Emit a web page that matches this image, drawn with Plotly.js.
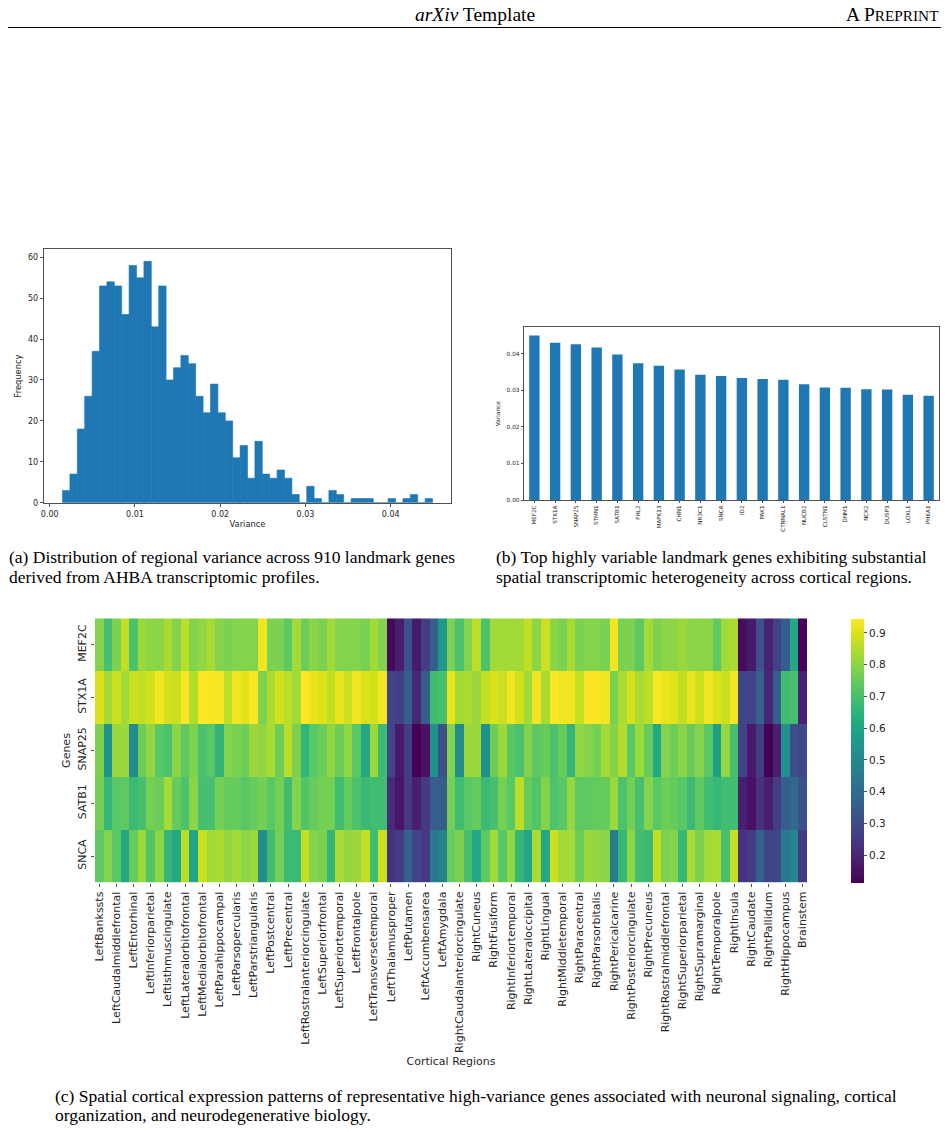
<!DOCTYPE html>
<html>
<head>
<meta charset="utf-8">
<script src="https://cdn.plot.ly/plotly-3.0.1.min.js"></script>
<style>
  html, body { margin: 0; padding: 0; background: #fff; }
  #fig { width: 949px; height: 1131px; }
</style>
</head>
<body>
<div id="fig"></div>
<script>
// ---- (a) histogram of regional variance over 910 landmark genes (50 bins) ----
const histBinLo = 0.0015;
const histBinHi = 0.0449;
const histCounts = [3, 7, 18, 26, 37, 53, 54, 53, 46, 58,
                    55, 59, 43, 53, 30, 33, 36, 34, 26, 22,
                    29, 22, 20, 11, 14, 6, 15, 7, 6, 8,
                    6, 2, 0, 4, 1, 0, 3, 2, 0, 1,
                    1, 1, 0, 0, 1, 0, 1, 2, 0, 1];

// ---- (b) top 20 highly variable genes ----
const topGenes = ['MEF2C', 'STX1A', 'SNAP25', 'STMN1', 'SATB1', 'FHL2', 'MAPK13', 'CHN1', 'NR3C1', 'SNCA',
                  'ID2', 'PAK1', 'CTNNAL1', 'NUCB2', 'CLSTN1', 'DNM1', 'NCK2', 'DUSP3', 'LOXL1', 'PHKA1'];
const topVariance = [0.0450, 0.0430, 0.0426, 0.0417, 0.0398, 0.0374, 0.0367, 0.0357, 0.0343, 0.0339,
                     0.0334, 0.0331, 0.0329, 0.0317, 0.0308, 0.0307, 0.0303, 0.0302, 0.0288, 0.0285];

// ---- (c) regional expression of representative genes ----
const heatGenes = ['MEF2C', 'STX1A', 'SNAP25', 'SATB1', 'SNCA'];
const regions = [
  'LeftBankssts', 'LeftCaudalanteriorcingulate', 'LeftCaudalmiddlefrontal', 'LeftCuneus', 'LeftEntorhinal',
  'LeftFusiform', 'LeftInferiorparietal', 'LeftInferiortemporal', 'LeftIsthmuscingulate', 'LeftLateraloccipital',
  'LeftLateralorbitofrontal', 'LeftLingual', 'LeftMedialorbitofrontal', 'LeftMiddletemporal', 'LeftParahippocampal',
  'LeftParacentral', 'LeftParsopercularis', 'LeftParsorbitalis', 'LeftParstriangularis', 'LeftPericalcarine',
  'LeftPostcentral', 'LeftPosteriorcingulate', 'LeftPrecentral', 'LeftPrecuneus', 'LeftRostralanteriorcingulate',
  'LeftRostralmiddlefrontal', 'LeftSuperiorfrontal', 'LeftSuperiorparietal', 'LeftSuperiortemporal', 'LeftSupramarginal',
  'LeftFrontalpole', 'LeftTemporalpole', 'LeftTransversetemporal', 'LeftInsula', 'LeftThalamusproper',
  'LeftCaudate', 'LeftPutamen', 'LeftPallidum', 'LeftAccumbensarea', 'LeftHippocampus',
  'LeftAmygdala', 'RightBankssts', 'RightCaudalanteriorcingulate', 'RightCaudalmiddlefrontal', 'RightCuneus',
  'RightEntorhinal', 'RightFusiform', 'RightInferiorparietal', 'RightInferiortemporal', 'RightIsthmuscingulate',
  'RightLateraloccipital', 'RightLateralorbitofrontal', 'RightLingual', 'RightMedialorbitofrontal', 'RightMiddletemporal',
  'RightParahippocampal', 'RightParacentral', 'RightParsopercularis', 'RightParsorbitalis', 'RightParstriangularis',
  'RightPericalcarine', 'RightPostcentral', 'RightPosteriorcingulate', 'RightPrecentral', 'RightPrecuneus',
  'RightRostralanteriorcingulate', 'RightRostralmiddlefrontal', 'RightSuperiorfrontal', 'RightSuperiorparietal', 'RightSuperiortemporal',
  'RightSupramarginal', 'RightFrontalpole', 'RightTemporalpole', 'RightTransversetemporal', 'RightInsula',
  'RightThalamusproper', 'RightCaudate', 'RightPutamen', 'RightPallidum', 'RightAccumbensarea',
  'RightHippocampus', 'RightAmygdala', 'Brainstem'
];

const exprMEF2C = [
  0.79, 0.70, 0.78, 0.87, 0.71, 0.82, 0.80, 0.80, 0.84, 0.79,
  0.86, 0.79, 0.81, 0.84, 0.79, 0.78, 0.79, 0.79, 0.79, 0.93,
  0.78, 0.78, 0.74, 0.83, 0.76, 0.80, 0.78, 0.83, 0.79, 0.79,
  0.79, 0.78, 0.83, 0.79, 0.13, 0.18, 0.32, 0.17, 0.26, 0.36,
  0.55, 0.78, 0.71, 0.79, 0.86, 0.71, 0.83, 0.83, 0.83, 0.83,
  0.87, 0.80, 0.88, 0.80, 0.78, 0.84, 0.78, 0.79, 0.79, 0.78,
  0.93, 0.78, 0.78, 0.74, 0.83, 0.78, 0.80, 0.80, 0.82, 0.80,
  0.80, 0.80, 0.74, 0.83, 0.84, 0.14, 0.17, 0.32, 0.19, 0.27,
  0.36, 0.61, 0.12
];
const exprSTX1A = [
  0.90, 0.83, 0.88, 0.83, 0.88, 0.87, 0.89, 0.93, 0.89, 0.88,
  0.94, 0.85, 0.945, 0.94, 0.94, 0.86, 0.93, 0.91, 0.94, 0.78,
  0.84, 0.89, 0.86, 0.83, 0.945, 0.92, 0.90, 0.87, 0.92, 0.88,
  0.93, 0.90, 0.89, 0.93, 0.28, 0.27, 0.36, 0.20, 0.36, 0.69,
  0.70, 0.92, 0.83, 0.84, 0.82, 0.87, 0.90, 0.88, 0.93, 0.89,
  0.83, 0.93, 0.84, 0.945, 0.93, 0.93, 0.87, 0.94, 0.94, 0.93,
  0.78, 0.84, 0.89, 0.84, 0.86, 0.945, 0.92, 0.91, 0.87, 0.92,
  0.88, 0.93, 0.90, 0.88, 0.93, 0.28, 0.28, 0.37, 0.20, 0.36,
  0.69, 0.70, 0.19
];
const exprSNAP25 = [
  0.78, 0.53, 0.82, 0.82, 0.51, 0.76, 0.81, 0.73, 0.71, 0.80,
  0.74, 0.78, 0.71, 0.73, 0.66, 0.79, 0.78, 0.76, 0.82, 0.81,
  0.84, 0.76, 0.86, 0.78, 0.66, 0.73, 0.76, 0.81, 0.76, 0.81,
  0.73, 0.61, 0.82, 0.68, 0.28, 0.17, 0.26, 0.113, 0.15, 0.53,
  0.32, 0.79, 0.51, 0.82, 0.82, 0.53, 0.76, 0.82, 0.73, 0.71,
  0.79, 0.74, 0.75, 0.71, 0.75, 0.66, 0.81, 0.79, 0.77, 0.83,
  0.79, 0.85, 0.73, 0.82, 0.75, 0.61, 0.79, 0.76, 0.80, 0.75,
  0.79, 0.73, 0.58, 0.81, 0.70, 0.28, 0.17, 0.26, 0.113, 0.18,
  0.53, 0.32, 0.29
];
const exprSATB1 = [
  0.77, 0.67, 0.73, 0.74, 0.68, 0.70, 0.77, 0.76, 0.83, 0.75,
  0.71, 0.80, 0.70, 0.70, 0.77, 0.75, 0.75, 0.73, 0.75, 0.77,
  0.73, 0.77, 0.69, 0.79, 0.72, 0.75, 0.77, 0.77, 0.69, 0.75,
  0.71, 0.68, 0.69, 0.69, 0.21, 0.16, 0.25, 0.18, 0.25, 0.36,
  0.36, 0.77, 0.69, 0.73, 0.75, 0.68, 0.70, 0.77, 0.73, 0.86,
  0.75, 0.72, 0.79, 0.71, 0.73, 0.81, 0.74, 0.74, 0.75, 0.75,
  0.82, 0.71, 0.77, 0.70, 0.79, 0.73, 0.76, 0.75, 0.73, 0.68,
  0.74, 0.69, 0.67, 0.69, 0.69, 0.18, 0.15, 0.23, 0.18, 0.26,
  0.36, 0.39, 0.32
];
const exprSNCA = [
  0.74, 0.79, 0.73, 0.61, 0.75, 0.82, 0.72, 0.80, 0.66, 0.61,
  0.86, 0.60, 0.88, 0.83, 0.84, 0.81, 0.83, 0.80, 0.82, 0.52,
  0.69, 0.77, 0.68, 0.68, 0.87, 0.79, 0.78, 0.66, 0.84, 0.81,
  0.82, 0.87, 0.69, 0.88, 0.23, 0.26, 0.37, 0.28, 0.25, 0.45,
  0.49, 0.75, 0.78, 0.70, 0.61, 0.74, 0.83, 0.73, 0.81, 0.67,
  0.61, 0.84, 0.61, 0.88, 0.83, 0.83, 0.76, 0.82, 0.81, 0.80,
  0.47, 0.67, 0.81, 0.69, 0.68, 0.87, 0.78, 0.79, 0.67, 0.84,
  0.78, 0.83, 0.84, 0.70, 0.87, 0.23, 0.26, 0.37, 0.28, 0.29,
  0.45, 0.49, 0.25
];

// ---------------------------------------------------------------------------
const W = 949, H = 1131;
const px = x => x / W;            // paper fraction from left
const py = y => 1 - y / H;        // paper fraction from top

const BLUE = '#1f77b4';
const SANS = 'DejaVu Sans, sans-serif';
const SERIF = 'Liberation Serif, Times New Roman, serif';
const INK = '#262626';
const CAPTION = 17.5;

// histogram bins
const nBins = histCounts.length;
const binW = (histBinHi - histBinLo) / nBins;
const binMid = histCounts.map((_, i) => histBinLo + (i + 0.5) * binW);

const traces = [
  {
    type: 'bar', x: binMid, y: histCounts, width: binW,
    marker: { color: BLUE, line: { color: BLUE, width: 0.6 } },
    xaxis: 'x', yaxis: 'y', hoverinfo: 'x+y'
  },
  {
    type: 'bar', x: topGenes, y: topVariance, width: 0.5,
    marker: { color: BLUE, line: { width: 0 } },
    xaxis: 'x2', yaxis: 'y2'
  },
  {
    type: 'heatmap',
    x: regions, y: heatGenes,
    z: [exprMEF2C, exprSTX1A, exprSNAP25, exprSATB1, exprSNCA],
    colorscale: 'Viridis', zmin: 0.113, zmax: 0.945,
    xaxis: 'x3', yaxis: 'y3', xgap: 0, ygap: 0,
    colorbar: {
      x: px(851), xanchor: 'left', xpad: 0, ypad: 0,
      y: py(882.7), yanchor: 'bottom',
      len: 264.4 / H, lenmode: 'fraction',
      thickness: 13, thicknessmode: 'pixels',
      outlinewidth: 0,
      tickvals: [0.2, 0.3, 0.4, 0.5, 0.6, 0.7, 0.8, 0.9],
      ticks: 'outside', ticklen: 3.5, tickwidth: 0.8, tickcolor: INK,
      tickfont: { family: SANS, size: 10.5, color: INK }
    }
  }
];

const frameAxis = {
  showline: true, mirror: true, linecolor: INK, linewidth: 0.8,
  ticks: 'outside', ticklen: 3.5, tickwidth: 0.8, tickcolor: INK,
  showgrid: false, zeroline: false, automargin: false
};

const evenRegions = regions.filter((_, i) => i % 2 === 0);

const layout = {
  width: W, height: H,
  margin: { l: 0, r: 0, t: 0, b: 0 },
  paper_bgcolor: '#fff', plot_bgcolor: '#fff',
  showlegend: false,
  font: { family: SANS, color: INK },

  // (a)
  xaxis: Object.assign({}, frameAxis, {
    domain: [px(44), px(451)], anchor: 'y',
    range: [-0.00067, 0.04707],
    tickvals: [0, 0.01, 0.02, 0.03, 0.04], tickformat: '.2f',
    tickfont: { size: 8, color: INK },
    title: { text: 'Variance', font: { size: 8.3, color: INK }, standoff: 3 }
  }),
  yaxis: Object.assign({}, frameAxis, {
    domain: [py(502.7), py(249.3)], anchor: 'x',
    range: [0, 61.95], tickvals: [0, 10, 20, 30, 40, 50, 60],
    tickfont: { size: 8, color: INK },
    title: { text: 'Frequency', font: { size: 8.3, color: INK }, standoff: 4 }
  }),

  // (b)
  xaxis2: Object.assign({}, frameAxis, {
    domain: [px(524), px(939)], anchor: 'y2',
    type: 'category', range: [-0.5, 19.5],
    tickangle: -90, ticklen: 2.5,
    tickfont: { size: 5.6, color: INK }
  }),
  yaxis2: Object.assign({}, frameAxis, {
    domain: [py(500), py(327.3)], anchor: 'x2',
    range: [0, 0.04725], tickvals: [0, 0.01, 0.02, 0.03, 0.04], tickformat: '.2f',
    ticklen: 2.5,
    tickfont: { size: 5.8, color: INK },
    title: { text: 'Variance', font: { size: 5.8, color: INK }, standoff: 5 }
  }),

  // (c)
  xaxis3: {
    domain: [px(95), px(807)], anchor: 'y3',
    type: 'category', showline: false, showgrid: false, zeroline: false, automargin: false,
    tickvals: evenRegions, tickangle: -90,
    ticks: 'outside', ticklen: 3.5, tickwidth: 0.8, tickcolor: INK,
    tickfont: { size: 11, color: INK },
    title: { text: 'Cortical Regions', font: { size: 11, color: INK }, standoff: 5 }
  },
  yaxis3: {
    domain: [py(882.7), py(618.3)], anchor: 'x3',
    type: 'category', autorange: 'reversed',
    showline: false, showgrid: false, zeroline: false, automargin: false,
    tickangle: -90,
    ticks: 'outside', ticklen: 3.5, tickwidth: 0.8, tickcolor: INK,
    tickfont: { size: 11, color: INK },
    title: { text: 'Genes', font: { size: 11, color: INK }, standoff: 3 }
  },

  shapes: [
    { type: 'line', xref: 'paper', yref: 'paper',
      x0: px(8), x1: px(941), y0: py(27.5), y1: py(27.5),
      line: { color: '#000', width: 1 } }
  ],

  annotations: [
    { text: '<i>arXiv</i> Template', x: px(475), y: py(14), xanchor: 'center', yanchor: 'middle',
      font: { family: SERIF, size: 19.5, color: '#000' } },
    { text: 'A P<span style="font-size:15.3px">REPRINT</span>', x: px(941), y: py(14), xanchor: 'right', yanchor: 'middle',
      font: { family: SERIF, size: 19.5, color: '#000' } },

    { text: '(a) Distribution of regional variance across 910 landmark genes', x: px(7), y: py(557), xanchor: 'left', yanchor: 'middle',
      font: { family: SERIF, size: CAPTION, color: '#000' } },
    { text: 'derived from AHBA transcriptomic profiles.', x: px(7), y: py(577), xanchor: 'left', yanchor: 'middle',
      font: { family: SERIF, size: CAPTION, color: '#000' } },
    { text: '(b) Top highly variable landmark genes exhibiting substantial', x: px(494), y: py(557), xanchor: 'left', yanchor: 'middle',
      font: { family: SERIF, size: CAPTION, color: '#000' } },
    { text: 'spatial transcriptomic heterogeneity across cortical regions.', x: px(494), y: py(577), xanchor: 'left', yanchor: 'middle',
      font: { family: SERIF, size: CAPTION, color: '#000' } },
    { text: '(c) Spatial cortical expression patterns of representative high-variance genes associated with neuronal signaling, cortical', x: px(53), y: py(1096), xanchor: 'left', yanchor: 'middle',
      font: { family: SERIF, size: CAPTION, color: '#000' } },
    { text: 'organization, and neurodegenerative biology.', x: px(53), y: py(1115), xanchor: 'left', yanchor: 'middle',
      font: { family: SERIF, size: CAPTION, color: '#000' } }
  ].map(a => Object.assign({ xref: 'paper', yref: 'paper', showarrow: false }, a))
};

Plotly.newPlot('fig', traces, layout, { staticPlot: true, displayModeBar: false });
</script>
</body>
</html>
